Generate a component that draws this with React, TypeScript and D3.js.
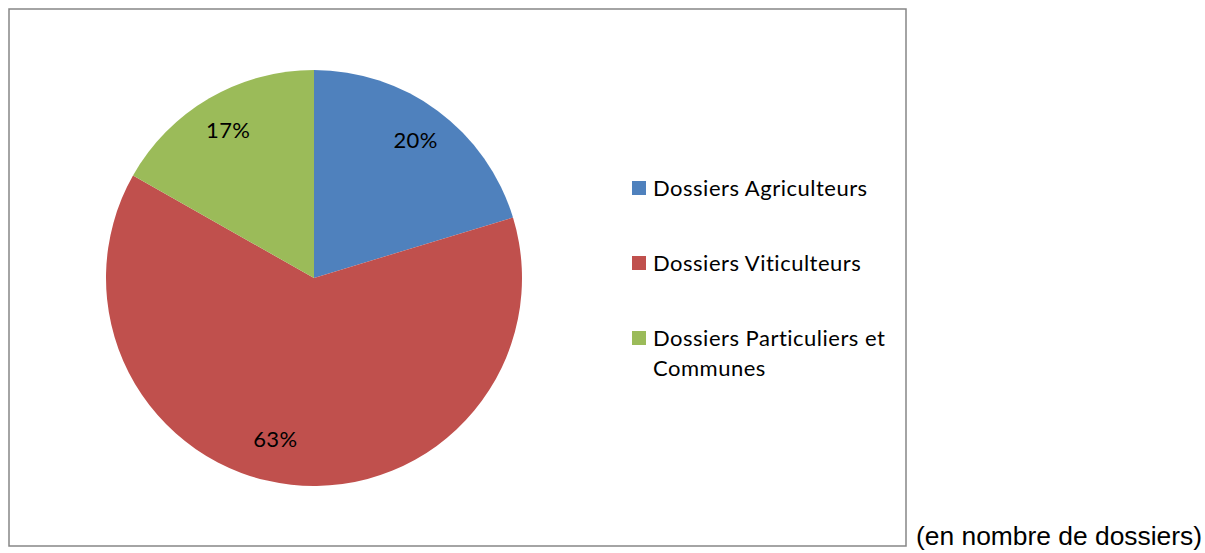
import React from "react";
import * as d3 from "d3";

const categories = ["Dossiers Agriculteurs", "Dossiers Viticulteurs", "Dossiers Particuliers et Communes"];
const values = [20.3, 62.9, 16.8];
const colors = ["#4F81BD", "#C0504D", "#9BBB59"];
const legendLines = [["Dossiers Agriculteurs"], ["Dossiers Viticulteurs"], ["Dossiers Particuliers et", "Communes"]];
const note = "(en nombre de dossiers)";

export default function App() {
  const W = 1205, H = 553;
  const cx = 314, cy = 278, r = 208;
  const pie = d3.pie<number>().sort(null).value((d) => d)(values);
  const arc = d3.arc<d3.PieArcDatum<number>>().innerRadius(0).outerRadius(r);
  const total = d3.sum(values);
  const labelArc = d3.arc<d3.PieArcDatum<number>>().innerRadius(r * 0.82).outerRadius(r * 0.82);
  const labelFont = "Lato, 'Noto Sans', sans-serif";
  const legendY = d3.scalePoint<number>().domain([0, 1, 2]).range([196, 346]);
  return (
    <svg width={W} height={H} style={{ position: "absolute", left: 0, top: 0, display: "block", background: "#fff" }}>
      <rect x={9} y={9} width={897} height={537} fill="#fff" stroke="#868686" strokeWidth={1.5} />
      <g transform={`translate(${cx},${cy})`}>
        {pie.map((p, i) => (
          <path key={i} d={arc(p) || ""} fill={colors[i]} />
        ))}
        {pie.map((p, i) => {
          const [x, y] = labelArc.centroid(p);
          const off = i === 1 ? [-20, -8] : [0, 0];
          return (
            <text key={"l" + i} x={x + off[0]} y={y + off[1] + 7} textAnchor="middle" fontFamily={labelFont} fontSize={22} letterSpacing={0.3} fill="#000">
              {Math.round((p.value / total) * 100) + "%"}
            </text>
          );
        })}
      </g>
      {categories.map((c, i) => (
        <g key={c}>
          <rect x={632} y={legendY(i)! - 15} width={14} height={14} fill={colors[i]} />
          {legendLines[i].map((ln, j) => (
            <text key={j} x={653} y={legendY(i)! + j * 30} fontFamily={labelFont} fontSize={22} letterSpacing={0.5} fill="#000">
              {ln}
            </text>
          ))}
        </g>
      ))}
      <text x={916} y={545} fontFamily="'Liberation Sans', Arial, sans-serif" fontSize={26.4} fill="#000">
        {note}
      </text>
    </svg>
  );
}
